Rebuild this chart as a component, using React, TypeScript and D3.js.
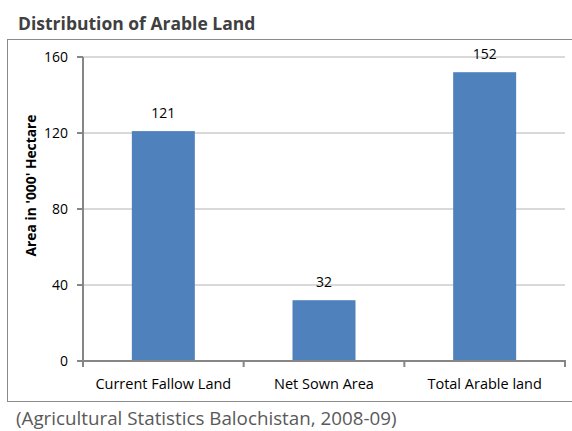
import React from "react";
import * as d3 from "d3";

const categories = ["Current Fallow Land", "Net Sown Area", "Total Arable land"];
const values = [121, 32, 152];
const yTicks = [0, 40, 80, 120, 160];

const W = 572;
const H = 431;
const FONT = "'Open Sans', sans-serif";

export default function App() {
  const x = d3.scaleBand<string>().domain(categories).range([83, 565]).paddingInner(0.608).paddingOuter(0.304);
  const y = d3.scaleLinear().domain([0, 160]).range([361, 57]);
  const step = x.step();
  const boundaries = d3.range(categories.length + 1).map((i) => 83 + i * step);

  return (
    <div style={{ position: "absolute", left: 0, top: 0 }}>
      <svg width={W} height={H} style={{ display: "block", fontFamily: FONT }}>
        <rect x={0} y={0} width={W} height={H} fill="#fff" />
        <text x={18} y={30} fontSize={17.5} fontWeight="bold" fill="#404040">
          Distribution of Arable Land
        </text>
        <rect x={7.5} y={39.5} width={W} height={362} fill="none" stroke="#8a8a8a" strokeWidth={1} />
        {yTicks.filter((t) => t > 0).map((t) => (
          <line key={"g" + t} x1={83} x2={565} y1={y(t)} y2={y(t)} stroke="#d9d9d9" strokeWidth={2} />
        ))}
        {categories.map((c, i) => (
          <rect key={c} x={x(c)} y={y(values[i])} width={x.bandwidth()} height={y(0) - y(values[i])} fill="#4f81bd" />
        ))}
        {categories.map((c, i) => (
          <text key={"v" + c} x={(x(c) as number) + x.bandwidth() / 2} y={y(values[i]) - 13} textAnchor="middle" fontSize={14} fill="#000">
            {values[i]}
          </text>
        ))}
        <line x1={83} x2={83} y1={57} y2={362} stroke="#868686" strokeWidth={2} />
        <line x1={77} x2={566} y1={361} y2={361} stroke="#868686" strokeWidth={2} />
        {yTicks.map((t) => (
          <g key={"t" + t}>
            <line x1={77} x2={83} y1={y(t)} y2={y(t)} stroke="#868686" strokeWidth={2} />
            <text x={68} y={y(t)} dy="0.36em" textAnchor="end" fontSize={14} fill="#000">
              {t}
            </text>
          </g>
        ))}
        {boundaries.map((b, i) => (
          <line key={"b" + i} x1={b} x2={b} y1={361} y2={367} stroke="#868686" strokeWidth={2} />
        ))}
        {categories.map((c) => (
          <text key={"c" + c} x={(x(c) as number) + x.bandwidth() / 2} y={389} textAnchor="middle" fontSize={14.5} fill="#000">
            {c}
          </text>
        ))}
        <text transform={`translate(36,185.5) rotate(-90)`} textAnchor="middle" fontSize={13.8} fontWeight="bold" fill="#000">
          Area in '000' Hectare
        </text>
        <text x={16} y={425} fontSize={18.8} fill="#595959">
          (Agricultural Statistics Balochistan, 2008-09)
        </text>
      </svg>
    </div>
  );
}
